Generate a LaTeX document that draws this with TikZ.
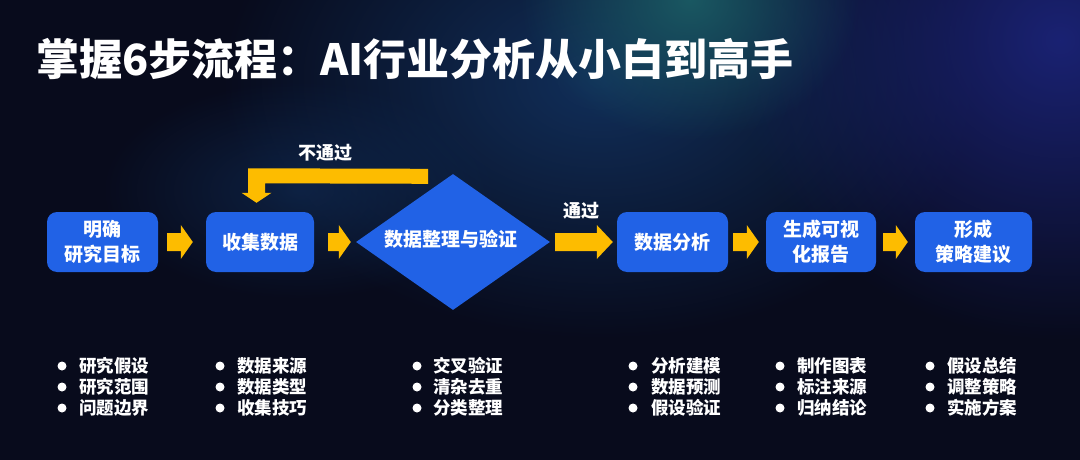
\documentclass[tikz,border=0pt]{standalone}
\usepackage{fontspec}
\setmainfont{Noto Sans CJK SC}
\usetikzlibrary{calc,shapes.geometric,fadings}
\definecolor{bgc}{HTML}{080B1C}
\definecolor{boxc}{HTML}{2162E6}
\definecolor{arrc}{HTML}{FDBC00}
\definecolor{tealg}{HTML}{1A5862}
\definecolor{blueg}{HTML}{112F5A}
\definecolor{purpg}{HTML}{1A2273}
\tikzfading[name=glowfade, inner color=transparent!0, outer color=transparent!100]
\tikzset{
  stepbox/.style={fill=boxc, rounded corners=10pt, minimum height=60pt, inner sep=0pt,
    text=white, font=\fontsize{19}{25}\selectfont\bfseries, align=center},
  lbl/.style={text=white, font=\fontsize{18}{22}\selectfont\bfseries, inner sep=0pt},
  btxt/.style={text=white, font=\fontsize{17.5}{20}\selectfont\bfseries, inner sep=0pt, anchor=west},
  glow/.style={fill=#1, path fading=glowfade}
}
\newcommand\fatarrow[3]{%
  \fill[arrc] ($(#1)+(0,9)$) -- ($(#2)+(-#3,9)$) -- ($(#2)+(-#3,17)$) -- (#2)
    -- ($(#2)+(-#3,-17)$) -- ($(#2)+(-#3,-9)$) -- ($(#1)+(0,-9)$) -- cycle;}
\begin{document}
\begin{tikzpicture}[x=1pt,y=-1pt]
\useasboundingbox (0,0) rectangle (1080,460);
\fill[bgc] (0,0) rectangle (1080,460);
\begin{scope}
\clip (0,0) rectangle (1080,460);
\fill[glow=blueg] (600,80) ellipse (380 and 260);
\fill[glow=purpg] (1060,40) ellipse (330 and 300);
\fill[glow=tealg] (690,0) ellipse (170 and 140);
\fill[glow=blueg, opacity=0.6] (300,190) ellipse (200 and 110);
\end{scope}

% title
\node[text=white, anchor=west, inner sep=0pt, font=\fontsize{43}{50}\selectfont\bfseries] (title) at (36,59) {掌握6步流程：AI行业分析从小白到高手};

% process nodes
\node[stepbox, minimum width=111pt] (b1) at (102.5,242) {明确\\研究目标};
\node[stepbox, minimum width=108pt] (b2) at (260,242) {收集数据};
\node[diamond, fill=boxc, minimum width=194pt, minimum height=136pt, inner sep=0pt,
  text=white, font=\fontsize{19}{25}\selectfont\bfseries] (d) at (453,242) {};
\node[text=white, font=\fontsize{19}{25}\selectfont\bfseries, inner sep=0pt] (dt) at (451,239) {数据整理与验证};
\node[stepbox, minimum width=111pt] (b3) at (672.5,242) {数据分析};
\node[stepbox, minimum width=110pt] (b4) at (821,242) {生成可视\\化报告};
\node[stepbox, minimum width=117pt] (b5) at (973.5,242) {形成\\策略建议};

% arrows
\coordinate (a1s) at ($(b1.east)+(9,0)$);  \coordinate (a1e) at ($(b2.west)+(-13,0)$);
\coordinate (a2s) at ($(b2.east)+(14,0)$); \coordinate (a2e) at ($(d.west)+(-5,0)$);
\coordinate (a3s) at ($(d.east)+(5,0)$);   \coordinate (a3e) at ($(b3.west)+(-4,0)$);
\coordinate (a4s) at ($(b3.east)+(5,0)$);  \coordinate (a4e) at ($(b4.west)+(-7,0)$);
\coordinate (a5s) at ($(b4.east)+(7,0)$);  \coordinate (a5e) at ($(b5.west)+(-7,0)$);
\fatarrow{a1s}{a1e}{12}
\fatarrow{a2s}{a2e}{12}
\fatarrow{a3s}{a3e}{16}
\fatarrow{a4s}{a4e}{12}
\fatarrow{a5s}{a5e}{12}

% feedback arrow
\coordinate (fbs) at ($(d.north)+(-25,2.5)$);
\coordinate (fbt) at ($(b2.north)+(-3.5,-9)$);
\fill[arrc] ($(fbs)+(0,-7.5)$) -- ($(fbt)+(-8.5,-34.5)$) -- ($(fbt)+(-8.5,-10)$)
  -- ($(fbt)+(-15,-10)$) -- (fbt) -- ($(fbt)+(15,-10)$) -- ($(fbt)+(8.5,-10)$)
  -- ($(fbt)+(8.5,-19.5)$) -- ($(fbs)+(0,7.5)$) -- cycle;

\node[lbl] (fail) at (325,153) {不通过};
\node[lbl] (pass) at (581,211) {通过};

% bullet lists
\foreach \bx/\tx/\a/\b/\c [count=\i] in {
  62/79/研究假设/研究范围/问题边界,
  220/237/数据来源/数据类型/收集技巧,
  417/433/交叉验证/清杂去重/分类整理,
  633/651/分析建模/数据预测/假设验证,
  780/797/制作图表/标注来源/归纳结论,
  930/947/假设总结/调整策略/实施方案}{
  \foreach \t/\y [count=\j] in {\a/366,\b/387,\c/408}{
    \fill[white] (\bx,\y) circle (4.5);
    \node[btxt] (c\i r\j) at (\tx,\y) {\t};
  }
}
\end{tikzpicture}
\end{document}
